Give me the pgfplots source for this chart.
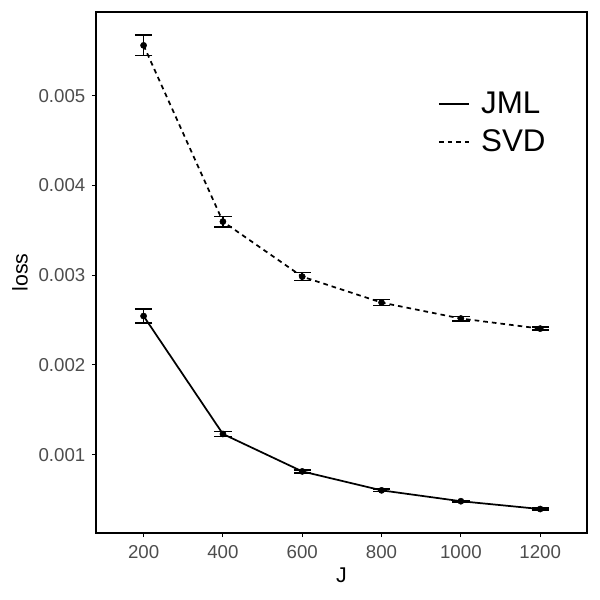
\documentclass[border=0pt]{standalone}
\usepackage{fontspec}
\setmainfont{Liberation Sans}
\usepackage{pgfplots}
\pgfplotsset{compat=1.18}
\usepackage{pgfplotstable}

\definecolor{ticktext}{HTML}{4D4D4D}

% mean loss and standard error for each number of items J
\pgfplotstableread{
J     loss      se
200   0.002545  0.00008
400   0.001231  0.000028
600   0.000814  0.000018
800   0.000603  0.000012
1000  0.000482  0.000010
1200  0.000395  0.000009
}\jml
\pgfplotstableread{
J     loss      se
200   0.005560  0.000113
400   0.003597  0.000058
600   0.002984  0.000045
800   0.002695  0.000033
1000  0.002517  0.000025
1200  0.002405  0.000018
}\svd

\begin{document}
\begin{tikzpicture}
\useasboundingbox (-72pt,-50.25pt) rectangle (378pt,399.75pt);
\begin{axis}[
  at={(0pt,0pt)}, anchor=south west,
  scale only axis,
  width=368.25pt, height=390.75pt,
  xmin=80, xmax=1318,
  ymin=0.000128, ymax=0.005932,
  xtick={200,400,...,1200},
  ytick={0.001,0.002,0.003,0.004,0.005},
  /pgf/number format/assume math mode=true,
  xticklabel style={/pgf/number format/1000 sep={}, yshift=-2.5pt},
  yticklabel style={/pgf/number format/fixed, /pgf/number format/precision=3,
    /pgf/number format/fixed zerofill, xshift=-1.5pt},
  scaled y ticks=false,
  tick align=outside, tick pos=left,
  major tick length=3pt,
  tick style={line width=0.8pt, black},
  ticklabel style={font=\fontsize{14}{14}\selectfont, text=ticktext},
  axis line style={line width=1.1pt},
  xlabel={J}, ylabel={loss},
  label style={font=\fontsize{16}{16}\selectfont},
  xlabel style={at={(axis description cs:0.5,-0.0806)}, anchor=center},
  ylabel style={at={(axis description cs:-0.1548,0.5)}, anchor=center},
  legend style={draw=none, fill=none, at={(0.688,0.787)}, anchor=west,
    font=\fontsize{23.5}{23.5}\selectfont, row sep=6.5pt},
  legend cell align=left,
  legend image code/.code={\draw[#1] (0pt,0pt) -- (22.5pt,0pt); \path (29pt,0pt);},
  clip=false,
]
\addplot[black, line width=1.3pt] table[x=J, y=loss] {\jml};
\addlegendentry{JML}
\addplot[black, line width=1.3pt, dash pattern=on 3.5pt off 3pt] table[x=J, y=loss] {\svd};
\addlegendentry{SVD}

% points with standard-error bars
\addplot[forget plot, draw=none, mark=*, mark size=2.3pt, mark options={black, fill=black},
  error bars/.cd, y dir=both, y explicit, error mark=-,
  error bar style={line width=1.2pt, black},
  error mark options={rotate=90, line width=1.2pt, black, mark size=6.5pt}]
  table[x=J, y=loss, y error=se] {\jml};
\addplot[forget plot, draw=none, mark=*, mark size=2.3pt, mark options={black, fill=black},
  error bars/.cd, y dir=both, y explicit, error mark=-,
  error bar style={line width=1.2pt, black},
  error mark options={rotate=90, line width=1.2pt, black, mark size=6.5pt}]
  table[x=J, y=loss, y error=se] {\svd};
\end{axis}
\end{tikzpicture}
\end{document}
